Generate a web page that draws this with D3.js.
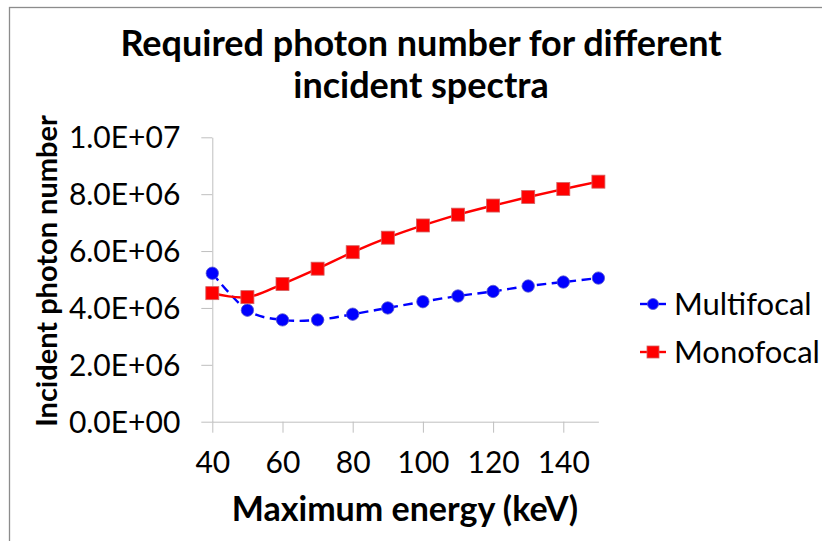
<!DOCTYPE html>
<html>
<head>
<meta charset="utf-8">
<script src="https://cdn.jsdelivr.net/npm/d3@7"></script>
<style>
  html, body { margin: 0; padding: 0; background: #fff; }
  svg { display: block; }
  text { font-family: Lato, "Open Sans", sans-serif; fill: #000; }
</style>
</head>
<body>
<svg id="chart" width="822" height="541"></svg>
<script>
// ---- data ----
const energies = [40, 50, 60, 70, 80, 90, 100, 110, 120, 130, 140, 150];
const multifocal = [5.22e6, 3.92e6, 3.58e6, 3.58e6, 3.78e6, 4.00e6, 4.22e6, 4.42e6, 4.58e6, 4.77e6, 4.91e6, 5.05e6];
const monofocal  = [4.52e6, 4.38e6, 4.84e6, 5.38e6, 5.96e6, 6.47e6, 6.90e6, 7.28e6, 7.60e6, 7.90e6, 8.18e6, 8.44e6];
const seriesNames = ["Multifocal", "Monofocal"];
const xTickValues = [40, 60, 80, 100, 120, 140];
const yTickValues = [0, 2e6, 4e6, 6e6, 8e6, 1e7];
const yTickLabels = ["0.0E+00", "2.0E+06", "4.0E+06", "6.0E+06", "8.0E+06", "1.0E+07"];
const titleLines = ["Required photon number for different", "incident spectra"];
const xTitle = "Maximum energy (keV)";
const yTitle = "Incident photon number";

// ---- layout ----
const svg = d3.select("#chart");
const plot = { left: 212.3, right: 598.4, top: 137.3, bottom: 421.7 };

// outer frame
svg.append("rect").attr("x", 9.5).attr("y", 7.5).attr("width", 830).attr("height", 560)
  .attr("fill", "none").attr("stroke", "#8c8c8c").attr("stroke-width", 1.3);

const x = d3.scaleLinear().domain([40, 150]).range([plot.left, plot.right]);
const y = d3.scaleLinear().domain([0, 1e7]).range([plot.bottom, plot.top]);

// axes
const axisColor = "#bfbfbf";
const yAxis = d3.axisLeft(y).tickValues(yTickValues)
  .tickFormat((d, i) => yTickLabels[i]).tickSize(11).tickPadding(21).tickSizeOuter(0);
const gy = svg.append("g").attr("transform", `translate(${plot.left},0)`).call(yAxis);
gy.selectAll("line").attr("stroke", axisColor);
gy.select(".domain").attr("stroke", axisColor);
gy.selectAll("text").style("font-size", "30px").attr("dy", "0.35em").attr("fill", "#000");

const xAxis = d3.axisBottom(x).tickValues(xTickValues).tickFormat(d3.format("d"))
  .tickSize(11).tickPadding(19).tickSizeOuter(0);
const gx = svg.append("g").attr("transform", `translate(0,${plot.bottom})`).call(xAxis);
gx.selectAll("line").attr("stroke", axisColor);
gx.select(".domain").attr("stroke", axisColor);
gx.selectAll("text").style("font-size", "30px").attr("dy", "0.71em").attr("fill", "#000");

// series
const curve = d3.curveCatmullRom.alpha(0);
const line = d3.line().x(d => x(d[0])).y(d => y(d[1])).curve(curve);
const multiPts = energies.map((e, i) => [e, multifocal[i]]);
const monoPts = energies.map((e, i) => [e, monofocal[i]]);

const blue = "#0000ff", red = "#ff0000";
const rad = 6.2, sq = 13;

svg.append("path").datum(multiPts).attr("d", line)
  .attr("fill", "none").attr("stroke", blue).attr("stroke-width", 2.4)
  .attr("stroke-dasharray", "9.5,5.5");
svg.append("g").selectAll("circle").data(multiPts).join("circle")
  .attr("cx", d => x(d[0])).attr("cy", d => y(d[1])).attr("r", rad)
  .attr("fill", blue).attr("stroke", "#5a5acc").attr("stroke-width", 0.8);

svg.append("path").datum(monoPts).attr("d", line)
  .attr("fill", "none").attr("stroke", red).attr("stroke-width", 2.4);
svg.append("g").selectAll("rect").data(monoPts).join("rect")
  .attr("x", d => x(d[0]) - sq / 2).attr("y", d => y(d[1]) - sq / 2)
  .attr("width", sq).attr("height", sq)
  .attr("fill", red).attr("stroke", "#d46060").attr("stroke-width", 0.8);

// titles
const title = svg.append("text").attr("text-anchor", "middle")
  .style("font-size", "36px").style("font-weight", "bold");
title.selectAll("tspan").data(titleLines).join("tspan")
  .attr("x", 421).attr("y", (d, i) => 56 + i * 42).text(d => d);

svg.append("text").attr("text-anchor", "middle").attr("x", 405).attr("y", 521)
  .style("font-size", "34px").style("font-weight", "bold").text(xTitle);

svg.append("text").attr("text-anchor", "middle")
  .attr("transform", "translate(57,271) rotate(-90)")
  .style("font-size", "29px").style("font-weight", "bold").text(yTitle);

// legend
const legend = svg.append("g");
const legY = [304, 352];
legend.append("line").attr("x1", 640).attr("x2", 666).attr("y1", legY[0]).attr("y2", legY[0])
  .attr("stroke", blue).attr("stroke-width", 2.4);
legend.append("circle").attr("cx", 653).attr("cy", legY[0]).attr("r", 5.5)
  .attr("fill", blue).attr("stroke", "#5a5acc").attr("stroke-width", 0.8);
legend.append("line").attr("x1", 640).attr("x2", 666).attr("y1", legY[1]).attr("y2", legY[1])
  .attr("stroke", red).attr("stroke-width", 2.4);
legend.append("rect").attr("x", 653 - 6).attr("y", legY[1] - 6).attr("width", 12).attr("height", 12)
  .attr("fill", red).attr("stroke", "#d46060").attr("stroke-width", 0.8);
legend.selectAll("text.leg").data(seriesNames).join("text").attr("class", "leg")
  .attr("x", 674).attr("y", (d, i) => legY[i] + 11)
  .style("font-size", "31px").text(d => d);
</script>
</body>
</html>
